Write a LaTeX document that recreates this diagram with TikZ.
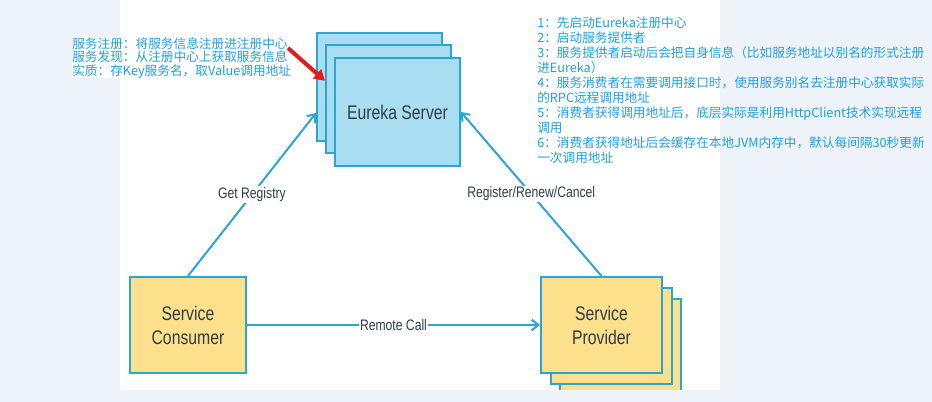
\documentclass[tikz,border=0pt]{standalone}
\usepackage{fontspec}
\usetikzlibrary{arrows.meta}
\newfontfamily\cjk{Noto Sans CJK SC}
\newfontfamily\lbl[FakeStretch=0.8]{Liberation Sans}
\definecolor{bg}{HTML}{EEF2F9}
\definecolor{line}{HTML}{2AA6D5}
\definecolor{sky}{HTML}{A9DDF1}
\definecolor{sand}{HTML}{FCE08C}
\definecolor{ink}{HTML}{2E3D48}
\definecolor{note}{HTML}{22A0DA}
\definecolor{alertred}{HTML}{E51A1F}

\begin{document}
\begin{tikzpicture}
    [
        x=0.75pt, y=-0.75pt,
        box/.style={draw=line, line width=1.5pt, text=ink, align=center, font=\lbl\fontsize{14.8}{18}\selectfont},
        server/.style={box, fill=sky, minimum width=93.75pt, minimum height=81pt},
        client/.style={box, fill=sand, minimum width=87pt, minimum height=72pt},
        label/.style={fill=white, text=ink, inner sep=1pt, font=\lbl\fontsize{11.4}{14}\selectfont},
        link/.style={draw=line, line width=1.5pt, -{Straight Barb[length=5pt, width=8pt]}},
        memo/.style={text=note, align=left, inner sep=0pt, anchor=north west, font=\cjk\fontsize{9.5}{11.2}\selectfont},
    ]
  % Background
  \useasboundingbox (0,0) rectangle (932,402);
  \fill [bg] (0,0) rectangle (932,402);
  \fill [white] (120,0) rectangle (720,390);

  % Nodes
  \node [server] (E3) at (379.5,87) {};
  \node [server] (E2) at (388.5,99.5) {};
  \node [server] (E) at (397.5,112) {Eureka Server};
  \node [client, minimum width=90.75pt] (P3) at (620.5,347) {};
  \node [client, minimum width=90.75pt] (P2) at (611,336) {};
  \node [client, minimum width=90.75pt] (P) at (601.5,325) {Service\\Provider};
  \node [client] (C) at (188,325) {Service\\Consumer};
  \fill [bg] (0,390) rectangle (932,402);

  % Notes
  \node [memo, fill=white, font=\cjk\fontsize{9.5}{10.3}\selectfont] (L) at (72,37)
    {服务注册：将服务信息注册进注册中心\\服务发现：从注册中心上获取服务信息\\实质：存Key服务名，取Value调用地址};
  \node [memo] (R) at (537,17)
    {1：先启动Eureka注册中心\\
     2：启动服务提供者\\
     3：服务提供者启动后会把自身信息（比如服务地址以别名的形式注册\\
     进Eureka）\\
     4：服务消费者在需要调用接口时，使用服务别名去注册中心获取实际\\
     的RPC远程调用地址\\
     5：消费者获得调用地址后，底层实际是利用HttpClient技术实现远程\\
     调用\\
     6：消费者获得地址后会缓存在本地JVM内存中，默认每间隔30秒更新\\
     一次调用地址};

  % Connections
  \draw [link] (C.north) -- node [label] {Get Registry} ([yshift=-19.5pt]E3.west);
  \draw [link] (P.north) -- node [label] {Register/Renew/Cancel} (E.east);
  \draw [link] (C.east) -- node [label] {Remote Call} (P.west);
  \coordinate (T) at (288,48);
  \draw [alertred, line width=3pt, -{Triangle[length=8pt, width=9pt]}] (T) -- ([yshift=14pt]E2.west);
\end{tikzpicture}
\end{document}
